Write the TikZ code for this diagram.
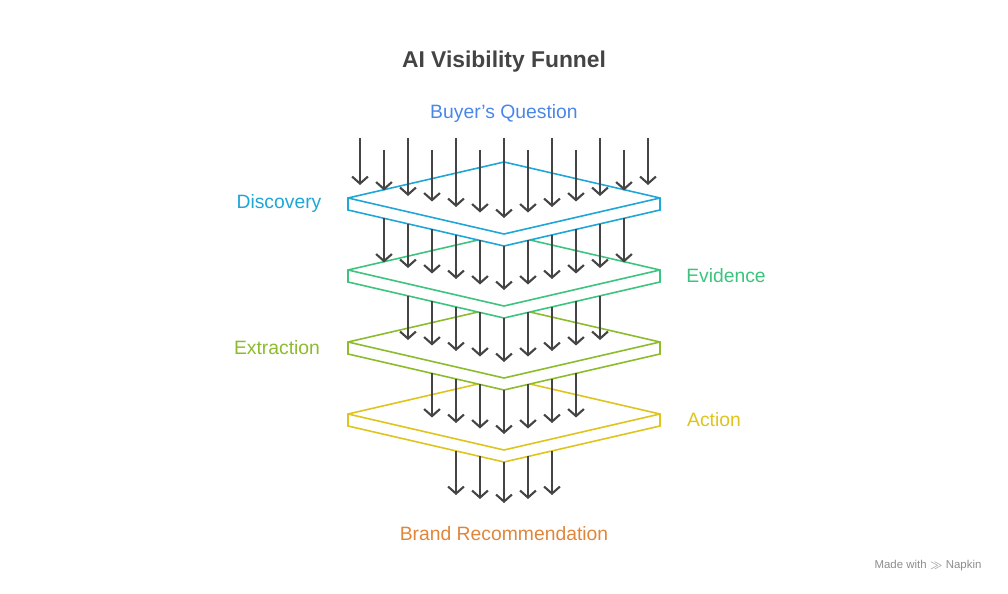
\documentclass[tikz,border=0pt]{standalone}
\usepackage{fontspec}
\setmainfont{Liberation Sans}
\usetikzlibrary{arrows.meta}
\definecolor{ink}{HTML}{444444}
\definecolor{cBuyer}{HTML}{4A86E8}
\definecolor{cDisc}{HTML}{1EA6D8}
\definecolor{cEvid}{HTML}{3CC47E}
\definecolor{cExtr}{HTML}{8CBC2C}
\definecolor{cAct}{HTML}{DEC41C}
\definecolor{cBrand}{HTML}{E0863A}
\tikzset{
  flow/.style={draw=ink, line width=1.2pt, -{Straight Barb[length=4pt,width=9pt,line width=1.2pt]}},
  plate/.style={line width=0.9pt, fill=white, line join=miter},
  lbl/.style={font=\fontsize{11}{13}\selectfont, inner sep=0pt}
}
\begin{document}
\begin{tikzpicture}[x=0.02cm, y=-0.02cm]
    \useasboundingbox (0,0) rectangle (1008,594);

    % Title and end labels
    \node[lbl, font=\fontsize{13}{15}\selectfont\bfseries, text=ink] (title) at (504,62) {AI Visibility Funnel};
    \node[lbl, text=cBuyer] (buyer) at (504,114) {Buyer's Question};
    \node[lbl, text=cBrand] (brand) at (504,534) {Brand Recommendation};
    \node[lbl, font=\fontsize{6.5}{8}\selectfont, text=black!45] (napkin) at (928,566) {Made with $\gg$ Napkin};

    % Plates, back to front
    \foreach \k/\col in {3/cAct, 2/cExtr, 1/cEvid, 0/cDisc} {
        \pgfmathsetmacro{\yt}{162+72*\k}
        \coordinate (T\k) at (504,\yt);
        \coordinate (L\k) at (348,\yt+36);
        \coordinate (R\k) at (660,\yt+36);
        \coordinate (B\k) at (504,\yt+72);
        \coordinate (LL\k) at (348,\yt+48);
        \coordinate (RR\k) at (660,\yt+48);
        \coordinate (BB\k) at (504,\yt+84);
        \filldraw[plate, draw=\col] (T\k) -- (R\k) -- (RR\k) -- (BB\k) -- (LL\k) -- (L\k) -- cycle;
        \draw[plate, draw=\col, fill=none] (L\k) -- (B\k) -- (R\k);
    }

    % Stage labels
    \node[lbl, text=cDisc] (disc) at (279,204) {Discovery};
    \node[lbl, text=cEvid] (evid) at (726,276) {Evidence};
    \node[lbl, text=cExtr] (extr) at (277,348) {Extraction};
    \node[lbl, text=cAct] (act) at (714,420) {Action};

    % Arrows above the first plate
    \foreach \i in {-6,...,6} {
        \pgfmathsetmacro{\ys}{isodd(\i) ? 150 : 138}
        \pgfmathsetmacro{\ye}{218-abs(\i)*5.5}
        \coordinate (s0\i) at (504+24*\i,\ys);
        \coordinate (t0\i) at (504+24*\i,\ye);
        \draw[flow] (s0\i) -- (t0\i);
    }
    % Arrows between plates
    \foreach \r/\n in {1/5, 2/4, 3/3} {
        \foreach \i in {-\n,...,\n} {
            \pgfmathsetmacro{\ys}{246+72*(\r-1)-abs(\i)*5.5}
            \pgfmathsetmacro{\ye}{218+72*\r-abs(\i)*5.5}
            \coordinate (s\r\i) at (504+24*\i,\ys);
            \coordinate (t\r\i) at (504+24*\i,\ye);
            \draw[flow] (s\r\i) -- (t\r\i);
        }
    }
    % Arrows below the last plate
    \foreach \i in {-2,...,2} {
        \pgfmathsetmacro{\ys}{462-abs(\i)*5.5}
        \pgfmathsetmacro{\ye}{503-abs(\i)*4}
        \coordinate (s4\i) at (504+24*\i,\ys);
        \coordinate (t4\i) at (504+24*\i,\ye);
        \draw[flow] (s4\i) -- (t4\i);
    }
\end{tikzpicture}
\end{document}
